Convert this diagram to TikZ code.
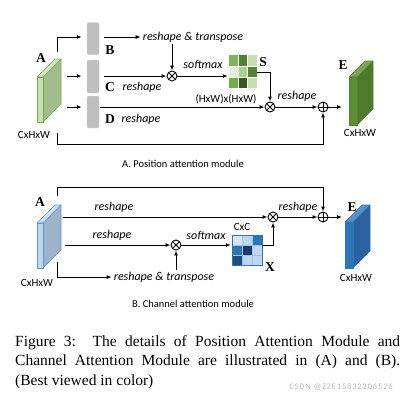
\documentclass[tikz,border=0pt]{standalone}
\usepackage{fontspec}
\setmainfont{Liberation Serif}
\newfontfamily\labfont{Carlito}
\newfontfamily\wmfont[LetterSpace=10]{Carlito}
\usetikzlibrary{calc,positioning,arrows.meta}
\definecolor{GreyBox}{HTML}{BFBFBF}
\definecolor{GrnPale}{HTML}{E2EFD9}
\definecolor{GrnSoft}{HTML}{C5E0B4}
\definecolor{GrnLight}{HTML}{A9D18E}
\definecolor{GrnMid}{HTML}{70AD47}
\definecolor{GrnDark}{HTML}{548235}
\definecolor{GrnDeep}{HTML}{375623}
\definecolor{GrnSide}{HTML}{A2BC8E}
\definecolor{GrnFace}{HTML}{5B8F32}
\definecolor{GrnShade}{HTML}{4D7A2B}
\definecolor{BluPale}{HTML}{DAE3F3}
\definecolor{BluSoft}{HTML}{BDD7EE}
\definecolor{BluMid}{HTML}{2E75B6}
\definecolor{BluDeep}{HTML}{1F4E79}
\definecolor{BluNavy}{HTML}{203864}
\definecolor{BluEdge}{HTML}{5B9BD5}
\definecolor{BluSide}{HTML}{9FB2C7}
\definecolor{BluShade}{HTML}{2B63A0}
\tikzset{
  daBase/.style={
    font=\labfont\fontsize{11pt}{13pt}\selectfont,
    inner sep=1pt
  },
  daOp/.style={
    font=\labfont\itshape\fontsize{12pt}{14pt}\selectfont,
    inner sep=2pt
  },
  daLetter/.style={
    font=\fontsize{13.5pt}{15pt}\selectfont\bfseries,
    inner sep=0pt
  },
  daCap/.style={
    font=\labfont\fontsize{10.5pt}{12pt}\selectfont
  },
  daGrey/.style={
    fill=GreyBox,
    draw=GreyBox!85,
    rounded corners=2pt,
    minimum width=12pt,
    inner sep=0pt
  },
  daMul/.style={
    circle, draw, line width=0.9pt,
    minimum size=10pt, inner sep=0pt,
    path picture={
      \draw[line width=0.8pt]
        (path picture bounding box.north west) -- (path picture bounding box.south east)
        (path picture bounding box.north east) -- (path picture bounding box.south west);
    }
  },
  daAdd/.style={
    circle, draw, line width=0.9pt,
    minimum size=10pt, inner sep=0pt,
    path picture={
      \draw[line width=0.8pt]
        (path picture bounding box.north) -- (path picture bounding box.south)
        (path picture bounding box.west) -- (path picture bounding box.east);
    }
  },
  daMat/.style={
    minimum width=#1, minimum height=#1, inner sep=0pt
  },
  daArrow/.style={
    line width=1pt,
    -{Latex[length=5pt,width=4pt]}
  }
}
% x, y, width, height, depth, front, side, edge
\newcommand{\daSlab}[8]{%
  \filldraw[fill=#7, draw=#8, line width=0.6pt, line join=round]
    (#1+#3,#2) -- ++(#5,-#5) -- ++(0,#4) -- ++(-#5,#5) -- cycle;
  \filldraw[fill=#6!80!white, draw=#8, line width=0.6pt, line join=round]
    (#1,#2) -- ++(#5,-#5) -- ++(#3,0) -- ++(-#5,#5) -- cycle;
  \filldraw[fill=#6, draw=#8, line width=0.6pt]
    (#1,#2) rectangle ++(#3,#4);
}
\begin{document}
\begin{tikzpicture}[x=1pt,y=-1pt]
    \useasboundingbox (0,0) rectangle (409,400);

    % A. Position attention module
    \daSlab{37}{77}{6}{45}{18}{GrnSoft}{GrnSide}{GrnMid}
    \daSlab{349}{77}{8}{48}{16}{GrnFace}{GrnShade}{GrnDark}
    \node (lblA1) [daLetter] at (41,58) {A};
    \node (dimA1) [daBase] at (34,135) {CxHxW};
    \node (lblE1) [daLetter] at (343,65) {E};
    \node (dimE1) [daBase] at (360,133) {CxHxW};

    \coordinate (aTop) at (57,52);
    \coordinate (aMid) at (67,76);
    \coordinate (aLow) at (67,107);
    \coordinate (aBot) at (57,133);
    \coordinate (eInA) at (342,107);

    \node (boxB) [daGrey, minimum height=32pt] at (93,38.5) {};
    \node (boxC) [daGrey, minimum height=33pt] at (93,76.5) {};
    \node (boxD) [daGrey, minimum height=32pt] at (93,112) {};
    \node (lblB) [daLetter] at (110,50) {B};
    \node (lblC) [daLetter] at (110,87) {C};
    \node (lblD) [daLetter] at (110,119) {D};

    \node (txtBT) [daOp] at (193,37) {reshape \& transpose};
    \node (txtC) [daOp] at (142,87) {reshape};
    \node (txtD) [daOp] at (141,119) {reshape};
    \node (txtSm) [daOp] at (203,64) {softmax};
    \node (txtHW) [daBase] at (226,99) {(HxW)x(HxW)};
    \node (txtRA) [daOp] at (297,96) {reshape};

    \node (mulP1) [daMul] at (172,76) {};
    \node (mulP2) [daMul] at (270,107) {};
    \node (addP) [daAdd] at (323,107) {};

    % matriz S
    \node (matS) [daMat=28pt, minimum height=33pt] at (243,71.5) {};
    \foreach \cl [count=\k from 0] in {GrnMid!90!white,GrnDark,GrnSoft,GrnPale,GrnLight,GrnDark,GrnMid,GrnDeep,GrnSoft} {
      \pgfmathtruncatemacro\cx{mod(\k,3)}
      \pgfmathtruncatemacro\cy{\k/3}
      \fill[\cl] ($(matS.north west)+(\cx*28/3,\cy*11)$) rectangle ++(28/3,11);
    }
    \draw[white, line width=0.4pt] ($(matS.north west)+(28/3,0)$) -- ++(0,33)
      ($(matS.north west)+(56/3,0)$) -- ++(0,33)
      ($(matS.north west)+(0,11)$) -- ++(28,0)
      ($(matS.north west)+(0,22)$) -- ++(28,0);
    \node (lblS) [daLetter] at (263,62) {S};

    \draw [daArrow, shorten >=5pt] (aTop) |- (boxB.west |- 0,37);
    \draw [daArrow, shorten <=5pt] (boxB.east |- 0,37) -- (txtBT.west);
    \draw [daArrow] (txtBT.south -| mulP1) -- (mulP1);
    \draw [daArrow, shorten >=5pt] (aMid) -- (aMid -| boxC.west);
    \draw [daArrow, shorten <=5pt] (aMid -| boxC.east) -- (mulP1);
    \draw [daArrow, shorten >=1pt] (mulP1) -- (mulP1 -| matS.west);
    \draw [daArrow] (matS.east |- 0,72) -| (mulP2);
    \draw [daArrow, shorten >=5pt] (aLow) -- (aLow -| boxD.west);
    \draw [daArrow, shorten <=1pt] (aLow -| boxD.east) -- (mulP2);
    \draw [daArrow] (mulP2) -- (addP);
    \draw [daArrow] (addP) -- (eInA);
    \draw [daArrow] (aBot) -- ++(0,11) -| (addP);

    \node (capA) [daCap] at (183,164) {A. Position attention module};

    % B. Channel attention module
    \daSlab{37}{223}{6}{45}{18}{BluSoft}{BluSide}{BluEdge}
    \daSlab{345}{222}{8}{46}{17}{BluMid}{BluShade}{BluMid}
    \node (lblA2) [daLetter] at (40,202) {A};
    \node (dimA2) [daBase] at (37,283) {CxHxW};
    \node (lblE2) [daLetter] at (352,207) {E};
    \node (dimE2) [daBase] at (356,278) {CxHxW};

    \coordinate (bTop) at (57,196);
    \coordinate (bMid) at (63,217);
    \coordinate (bLow) at (65,245);
    \coordinate (bBot) at (57,262);
    \coordinate (eInB) at (342,217);

    \node (txtR1) [daOp] at (114,207) {reshape};
    \node (txtR2) [daOp] at (112,235) {reshape};
    \node (txtCT) [daOp] at (164,277) {reshape \& transpose};
    \node (txtSm2) [daOp] at (206,235) {softmax};
    \node (txtRB) [daOp] at (298,207) {reshape};

    \node (mulC1) [daMul] at (176,245) {};
    \node (mulC2) [daMul] at (273,217) {};
    \node (addC) [daAdd] at (323,217) {};

    % matriz X
    \node (matX) [daMat=30pt] at (247,250) {};
    \foreach \cl [count=\k from 0] in {BluPale,BluSoft,BluMid,BluMid,BluNavy,BluSoft,BluDeep,BluSoft,BluSoft} {
      \pgfmathtruncatemacro\cx{mod(\k,3)}
      \pgfmathtruncatemacro\cy{\k/3}
      \fill[\cl] ($(matX.north west)+(\cx*10,\cy*10)$) rectangle ++(10,10);
    }
    \draw[BluEdge!60!white, line width=0.5pt] ($(matX.north west)+(10,0)$) -- ++(0,30)
      ($(matX.north west)+(20,0)$) -- ++(0,30)
      ($(matX.north west)+(0,10)$) -- ++(30,0)
      ($(matX.north west)+(0,20)$) -- ++(30,0);
    \draw[BluMid, line width=0.6pt] (matX.north west) rectangle (matX.south east);
    \node (dimX) [daBase] at (242,227) {CxC};
    \node (lblX) [daLetter] at (270,267) {X};

    \draw [daArrow] (bTop) -- ++(0,-9) -| (addC);
    \draw [daArrow] (bMid) -- (mulC2);
    \draw [daArrow] (bLow) -- (mulC1);
    \draw [daArrow] (bBot) |- (txtCT.west);
    \draw [daArrow] (txtCT.north -| mulC1) -- (mulC1);
    \draw [daArrow, shorten >=1pt] (mulC1) -- (mulC1 -| matX.west);
    \draw [daArrow] (matX.east |- mulC1) -| (mulC2);
    \draw [daArrow] (mulC2) -- (addC);
    \draw [daArrow] (addC) -- (eInB);

    \node (capB) [daCap] at (193,304) {B. Channel attention module};

    % pie de figura
    \node (figCap) [anchor=north west, inner sep=0pt, text width=385pt, align=justify,
      font=\fontsize{15.5pt}{19.5pt}\selectfont] at (15,335)
      {Figure 3:\ \ The details of Position Attention Module and\linebreak
       Channel Attention Module are illustrated in (A) and (B).\linebreak
       (Best viewed in color)};
    \node (wmark) [font=\wmfont\fontsize{8.5pt}{9pt}\selectfont, text=gray!55] at (341,387) {CSDN @ZZE15832206526};
  \end{tikzpicture}
\end{document}
